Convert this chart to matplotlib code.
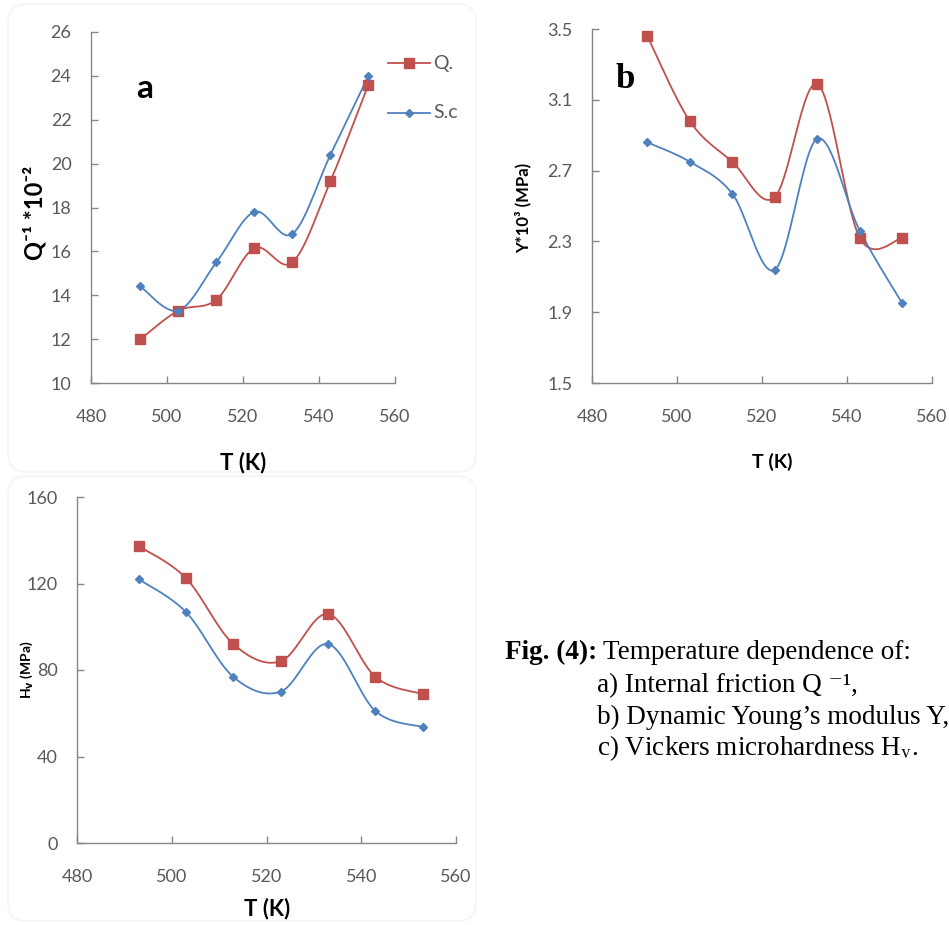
import numpy as np
import matplotlib
matplotlib.use("Agg")
import matplotlib.pyplot as plt
from matplotlib.patches import FancyBboxPatch

# ---------------- data ----------------
T = [493, 503, 513, 523, 533, 543, 553]

q_inv_Q = [12.0, 13.3, 13.8, 16.15, 15.5, 19.2, 23.6]
q_inv_Sc = [14.4, 13.3, 15.5, 17.8, 16.8, 20.4, 24.0]

Y_Q = [3.46, 2.98, 2.75, 2.55, 3.19, 2.32, 2.32]
Y_Sc = [2.86, 2.75, 2.57, 2.14, 2.88, 2.36, 1.95]

Hv_Q = [137.3, 122.5, 92.0, 84.0, 105.9, 76.8, 68.9]
Hv_Sc = [122.0, 106.8, 76.8, 70.0, 92.0, 61.0, 53.6]

series_names = ["Q.", "S.c"]
x_ticks = [480, 500, 520, 540, 560]
a_yticks = [10, 12, 14, 16, 18, 20, 22, 24, 26]
b_yticks = [1.5, 1.9, 2.3, 2.7, 3.1, 3.5]
c_yticks = [0, 40, 80, 120, 160]

RED = "#C0504D"
BLUE = "#4F81BD"
TICKC = "#595959"
SPINE = "#868686"

W, H = 949, 925
fig = plt.figure(figsize=(W / 100, H / 100), dpi=100)
plt.rcParams['font.family'] = ['Lato', 'DejaVu Sans']
SANS = ['Lato', 'DejaVu Sans']
SERIF = ['Liberation Serif', 'DejaVu Serif']


def smooth(x, y, n=30):
    x = np.asarray(x, float)
    y = np.asarray(y, float)
    P = np.column_stack([x, y])
    Pe = np.vstack([P[0], P, P[-1]])
    out = []
    for i in range(len(P) - 1):
        p0, p1, p2, p3 = Pe[i], Pe[i + 1], Pe[i + 2], Pe[i + 3]
        c1 = p1 + (p2 - p0) / 6.0
        c2 = p2 - (p3 - p1) / 6.0
        t = np.linspace(0, 1, n, endpoint=(i == len(P) - 2))[:, None]
        b = ((1 - t) ** 3) * p1 + 3 * ((1 - t) ** 2) * t * c1 + 3 * (1 - t) * t ** 2 * c2 + t ** 3 * p2
        out.append(b)
    out = np.vstack(out)
    return out[:, 0], out[:, 1]


def px_axes(l, t, r, b):
    return fig.add_axes([l / W, 1 - b / H, (r - l) / W, (b - t) / H])


def style(ax, yticks, ylim, yfmt):
    ax.set_xlim(480, 560)
    ax.set_ylim(*ylim)
    ax.set_xticks(x_ticks)
    ax.set_yticks(yticks)
    ax.set_yticklabels([yfmt(v) for v in yticks])
    for s in ["top", "right"]:
        ax.spines[s].set_visible(False)
    for s in ["left", "bottom"]:
        ax.spines[s].set_color(SPINE)
        ax.spines[s].set_linewidth(1.0)
    ax.tick_params(axis="both", direction="in", length=5, width=1.0, color=SPINE,
                   labelcolor=TICKC, labelsize=13)
    ax.tick_params(axis="x", pad=19)
    ax.tick_params(axis="y", pad=14)
    ax.set_facecolor("none")


def draw(ax, yq, ys):
    xs, ysq = smooth(T, yq)
    ax.plot(xs, ysq, color=RED, lw=1.3, zorder=2)
    ax.plot(T, yq, ls="none", marker="s", ms=6.5, color=RED, mec=RED, zorder=3)
    xs, yss = smooth(T, ys)
    ax.plot(xs, yss, color=BLUE, lw=1.3, zorder=2)
    ax.plot(T, ys, ls="none", marker="D", ms=3.8, color=BLUE, mec=BLUE, zorder=3)


# faint chart-area borders
for (l, t, r, b) in [(8, 4, 476, 472), (8, 476, 476, 921)]:
    fig.patches.append(FancyBboxPatch((l / W, 1 - b / H), (r - l) / W, (b - t) / H,
                                      boxstyle="round,pad=0,rounding_size=0.02",
                                      transform=fig.transFigure, fc="none",
                                      ec="#f3f3f3", lw=1.0, zorder=0))

# ---- panel a ----
axa = px_axes(91, 32, 395, 383)
style(axa, a_yticks, (10, 26), lambda v: f"{v:d}")
draw(axa, q_inv_Q, q_inv_Sc)
fig.text(145 / W, 1 - 88 / H, "a", fontsize=24, fontweight="bold", ha="center", va="center", color="black")
fig.text(35 / W, 1 - 213 / H, "Q\u207b\u00b9 *10\u207b\u00b2", rotation=90, fontsize=17,
         fontweight="bold", ha="center", va="center", family=SANS)
fig.text(243 / W, 1 - 463 / H, "T (K)", fontsize=16, fontweight="bold", ha="center", va="center")

# legend (manual, figure coordinates)
for name, col, mk, ms, yy in [(series_names[0], RED, "s", 6.5, 63), (series_names[1], BLUE, "D", 3.8, 113)]:
    fig.lines.append(plt.Line2D([388 / W, 430 / W], [1 - yy / H, 1 - yy / H], color=col, lw=1.3,
                                transform=fig.transFigure))
    fig.lines.append(plt.Line2D([409 / W], [1 - yy / H], color=col, marker=mk, ms=ms, ls="none",
                                transform=fig.transFigure))
    fig.text(433 / W, 1 - yy / H, name, fontsize=14, color=TICKC, ha="left", va="center")

# ---- panel b ----
axb = px_axes(592, 29, 932, 383)
style(axb, b_yticks, (1.5, 3.5), lambda v: f"{v:.1f}")
draw(axb, Y_Q, Y_Sc)
fig.text(625 / W, 1 - 80 / H, "b", fontsize=25, fontweight="bold", family=SERIF,
         ha="center", va="center")
fig.text(523 / W, 1 - 208 / H, "Y*10\u00b3 (MPa)", rotation=90, fontsize=12,
         fontweight="bold", ha="center", va="center", family=SANS)
fig.text(772 / W, 1 - 462 / H, "T (K)", fontsize=14, fontweight="bold", ha="center", va="center")

# ---- panel c ----
axc = px_axes(77, 497, 456, 843)
style(axc, c_yticks, (0, 160), lambda v: f"{v:d}")
draw(axc, Hv_Q, Hv_Sc)
fig.text(27 / W, 1 - 670 / H, r"H$_{\mathbf{v}}$ (MPa)", rotation=90, fontsize=10,
         fontweight="bold", ha="center", va="center")
fig.text(267 / W, 1 - 909 / H, "T (K)", fontsize=16, fontweight="bold", ha="center", va="center")

# ---- caption ----
cap = dict(family=SERIF, fontsize=19.5, ha="left", va="baseline", color="black")
bl = 7
t1 = fig.text(505 / W, 1 - (652 + bl) / H, "Fig. (4):", fontweight="bold", **cap)
fig.canvas.draw()
ext = t1.get_window_extent()
fig.text((ext.x1 + 6) / W, 1 - (652 + bl) / H, "Temperature dependence of:", **cap)
fig.text(597 / W, 1 - (685 + bl) / H, "a) Internal friction Q \u207b\u00b9,", **cap)
fig.text(597 / W, 1 - (717 + bl) / H, "b) Dynamic Young\u2019s modulus Y,", **cap)
fig.text(597 / W, 1 - (748 + bl) / H, r"c) Vickers microhardness H$_{\mathrm{v}}$.", math_fontfamily="stix", **cap)

fig.savefig("out.png", dpi=100)
